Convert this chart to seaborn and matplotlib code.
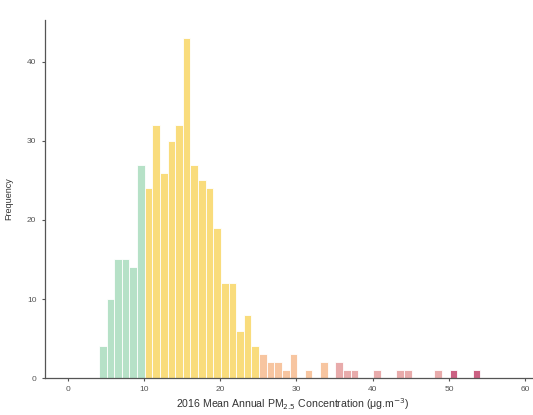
import numpy as np
import pandas as pd
import matplotlib
matplotlib.use("Agg")
import matplotlib.pyplot as plt
import seaborn as sns

# histogram bins (width 1, starting at 4.1) and counts
bin_start = 4.1
bin_width = 1.0
counts = [4, 10, 15, 15, 14, 27,                  # < 10
          24, 32, 26, 30, 32, 43, 27, 25, 24, 19,
          12, 12, 6, 8, 4,                          # 10 - 25
          3, 2, 2, 1, 3, 0, 1, 0, 2,                # 25 - 35
          0, 2, 1, 1, 0, 0, 1, 0, 0, 1, 1, 0, 0, 0, 1, 0,   # 35 - 50
          1, 0, 0, 1]                               # > 50
thresholds = [10, 25, 35, 50]
band_names = ["<10", "10-25", "25-35", "35-50", ">50"]
band_colors = ["#a9dcbd", "#f8d665", "#f6bb8f", "#e59c9c", "#c2446c"]

edges = bin_start + bin_width * np.arange(len(counts) + 1)
centers = (edges[:-1] + edges[1:]) / 2
band = [band_names[np.searchsorted(thresholds, c)] for c in centers]

df = pd.DataFrame({"pm25": centers, "count": counts, "band": band})

sns.set_style("ticks")
plt.rcParams["font.family"] = ["Liberation Sans", "DejaVu Sans"]

fig = plt.figure(figsize=(5.33, 4.15), dpi=100)
ax = fig.add_axes([0.084, 0.089, 0.93, 0.863])

for name, col in zip(band_names, band_colors):
    sub = df[df["band"] == name]
    sns.histplot(data=sub, x="pm25", weights="count", bins=list(edges),
                 color=col, alpha=0.85, edgecolor="white", linewidth=0.6, ax=ax)

ax.set_xlim(-3, 62)
ax.set_ylim(0, 45.3)
ax.set_xticks(range(0, 61, 10))
ax.set_yticks(range(0, 41, 10))
ax.set_xlabel("2016 Mean Annual PM$_{2.5}$ Concentration (μg.m$^{-3}$)", fontsize=7.6, color="#333333", labelpad=2)
ax.set_ylabel("Frequency", fontsize=6.5, color="#333333", labelpad=10)
ax.tick_params(labelsize=6, colors="#555555", length=2.5, width=0.8)
for s in ["left", "bottom"]:
    ax.spines[s].set_color("#555555")
    ax.spines[s].set_linewidth(0.9)
sns.despine(ax=ax)

fig.savefig("out.png", dpi=100)
